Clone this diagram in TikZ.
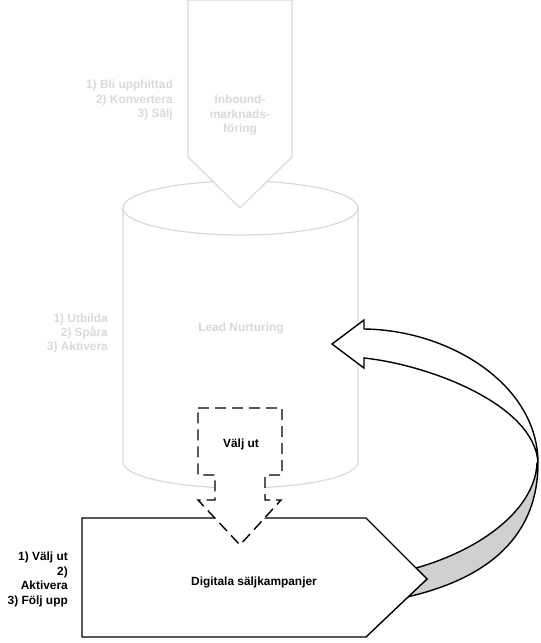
\documentclass[tikz,border=0pt]{standalone}
\usepackage{fontspec}
\setmainfont{Liberation Sans}
\usepackage{xcolor}
\usetikzlibrary{positioning}

\definecolor{pale}{HTML}{D9D9D9}
\definecolor{ribbon}{HTML}{D0D0D0}

\begin{document}
\begin{tikzpicture}[
        x=1pt, y=-1pt,
        base/.style={font=\fontsize{11.9}{14.4}\selectfont\bfseries, inner sep=0pt},
        paletext/.style={base, text=pale},
        darktext/.style={base, text=black},
        steps/.style={align=right, anchor=east},
        paleshape/.style={draw=pale, line width=1.2pt, fill=white},
        darkshape/.style={draw=black, line width=1.4pt, fill=white, line join=miter},
        dashshape/.style={darkshape, dash pattern=on 11pt off 6pt}
    ]

        \useasboundingbox (0,0) rectangle (541,643);

        \draw[paleshape] (123,208) -- (123,462) arc[start angle=180, end angle=360, x radius=117.5pt, y radius=26pt] -- (358,208);
        \draw[paleshape] (240.5,208) ellipse [x radius=117.5pt, y radius=27pt];

        \draw[paleshape] (188,0) -- (292,0) -- (292,157) -- (240,208) -- (188,157) -- cycle;

        \draw[darkshape, fill=ribbon] (538,463) .. controls (538,535) and (490,578) .. (407,597)
            -- (427,579) -- (416,568) .. controls (480,550) and (535,510) .. (537,463) -- cycle;

        \draw[darkshape] (82,518) -- (366,518) -- (427,579) -- (366,637) -- (82,637) -- cycle;

        \draw[dashshape] (198,408) -- (282,408) -- (282,475) -- (265,475) -- (265,500) -- (281,500)
            -- (240,545) -- (198,500) -- (215,500) -- (215,475) -- (198,475) -- cycle;

        \draw[darkshape] (332,344) -- (364,320) -- (364,329) .. controls (450,330) and (538,385) .. (538,463)
            .. controls (535,405) and (430,365) .. (364,358) -- (364,368) -- cycle;

        \node[paletext, steps] (inboundsteps) at (173,100) {1) Bli upphittad\\2) Konvertera\\3) Sälj};
        \node[paletext, align=center] (inbound) at (240,115) {Inbound-\\marknads-\\föring};

        \node[paletext, steps] (nurturesteps) at (108,333.5) {1) Utbilda\\2) Spåra\\3) Aktivera};
        \node[paletext] (nurture) at (241,328) {Lead Nurturing};

        \node[darktext] (select) at (241,444) {Välj ut};

        \node[darktext, steps] (campaignsteps) at (68,579.5) {1) Välj ut\\2)\\Aktivera\\3) Följ upp};
        \node[darktext] (campaign) at (254,582) {Digitala säljkampanjer};

    \end{tikzpicture}
\end{document}
